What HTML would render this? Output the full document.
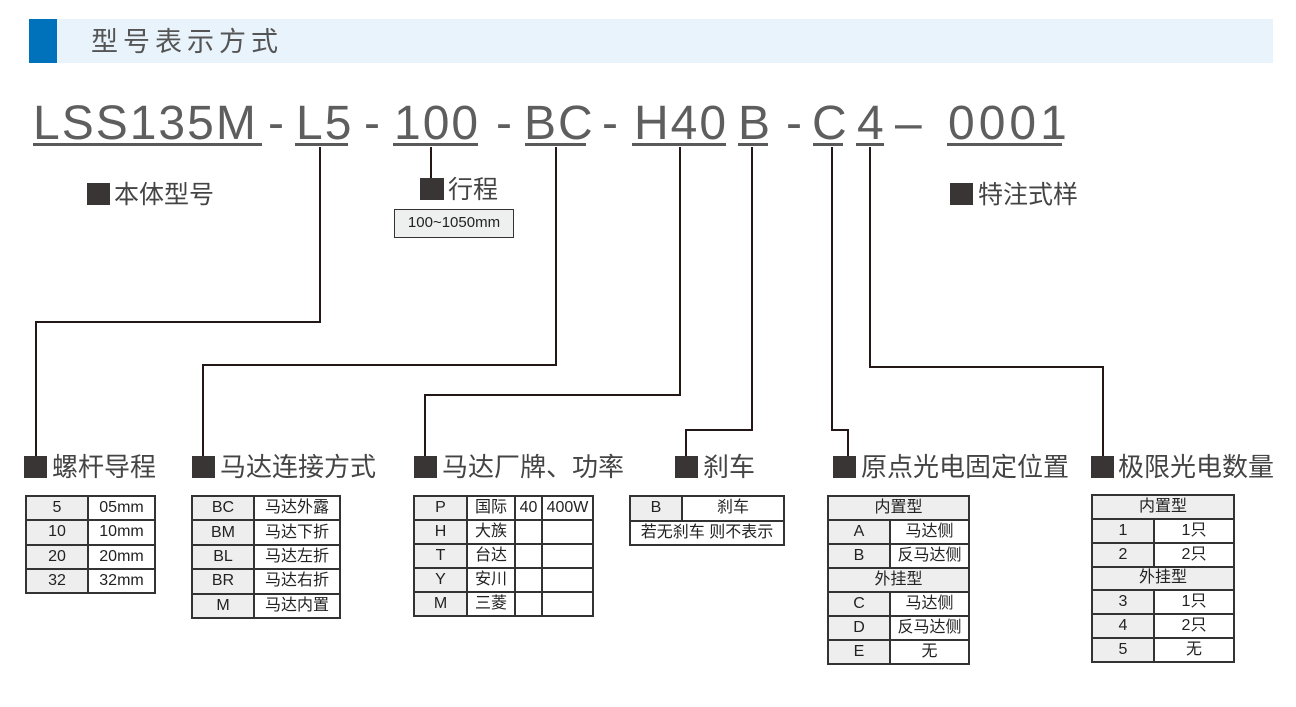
<!DOCTYPE html>
<html><head><meta charset="utf-8">
<style>
*{margin:0;padding:0;box-sizing:border-box}
body{width:1296px;height:707px;background:#fff;position:relative;overflow:hidden;font-family:"Liberation Sans","Noto Sans CJK SC",sans-serif;color:#333}
.a{position:absolute;white-space:nowrap}
.code{position:absolute;top:94px;font-size:48px;color:#5e5e5e;line-height:60px;font-family:"Liberation Sans",sans-serif;letter-spacing:2px;white-space:nowrap}
.ul{position:absolute;top:143px;height:3px;background:#5a5a5a}
.sq{position:absolute;background:#3a3535}
.lbl{position:absolute;font-size:26px;color:#444;line-height:30px;white-space:nowrap}
table{position:absolute;border-collapse:collapse;table-layout:fixed;border:2.5px solid #333}
td{border:2px solid #333;text-align:center;font-size:16px;color:#222;padding:0;line-height:18px;white-space:nowrap;overflow:hidden}
td.g{background:#eeeeee}
</style></head><body>
<div class="a" style="left:29px;top:19px;width:28px;height:44px;background:#0072bc"></div>
<div class="a" style="left:57px;top:19px;width:1216px;height:44px;background:#e8f3fc"></div>
<div class="a" style="left:91px;top:25px;font-size:27px;color:#555;letter-spacing:5px;line-height:34px">型号表示方式</div>

<div class="code" style="left:33px">LSS135M</div>
<div class="ul" style="left:33px;width:229px"></div>
<div class="code" style="left:268px">-</div>
<div class="code" style="left:296px">L5</div>
<div class="ul" style="left:295px;width:53px"></div>
<div class="code" style="left:364px">-</div>
<div class="code" style="left:394px">100</div>
<div class="ul" style="left:393px;width:85px"></div>
<div class="code" style="left:496px">-</div>
<div class="code" style="left:524px">BC</div>
<div class="ul" style="left:525px;width:61px"></div>
<div class="code" style="left:602px">-</div>
<div class="code" style="left:634px">H40</div>
<div class="ul" style="left:632px;width:94px"></div>
<div class="code" style="left:738px">B</div>
<div class="ul" style="left:738px;width:30px"></div>
<div class="code" style="left:786px">-</div>
<div class="code" style="left:812px">C</div>
<div class="ul" style="left:813px;width:30px"></div>
<div class="code" style="left:857px">4</div>
<div class="ul" style="left:856px;width:28px"></div>
<div class="code" style="left:895px">–</div>
<div class="code" style="left:948px;letter-spacing:4px">0001</div>
<div class="ul" style="left:947px;width:115px"></div>

<svg class="a" style="left:0;top:0" width="1296" height="707">
<g fill="none" stroke="#231815" stroke-width="2">
<polyline points="320,147 320,322 36,322 36,456"/>
<polyline points="431,147 431,180"/>
<polyline points="556,147 556,365 203,365 203,456"/>
<polyline points="680,147 680,395 425,395 425,456"/>
<polyline points="752,147 752,430 686,430 686,456"/>
<polyline points="832,147 832,430 848,430 848,456"/>
<polyline points="870,147 870,367 1103,367 1103,456"/>
</g>
</svg>

<div class="sq" style="left:87px;top:183px;width:23px;height:22px"></div>
<div class="lbl" style="left:114px;top:180px;font-size:25px">本体型号</div>
<div class="sq" style="left:420px;top:178px;width:24px;height:22px"></div>
<div class="lbl" style="left:448px;top:175px;font-size:25px">行程</div>
<div class="a" style="left:394px;top:209px;width:120px;height:29px;border:1.5px solid #333;background:#eef0f0;font-size:15px;line-height:26px;text-align:center;color:#222">100~1050mm</div>
<div class="sq" style="left:950px;top:183px;width:23px;height:22px"></div>
<div class="lbl" style="left:978px;top:180px;font-size:25px">特注式样</div>

<div class="sq" style="left:24px;top:456px;width:23px;height:22px"></div>
<div class="lbl" style="left:52px;top:452px">螺杆导程</div>
<div class="sq" style="left:192px;top:456px;width:23px;height:22px"></div>
<div class="lbl" style="left:220px;top:452px">马达连接方式</div>
<div class="sq" style="left:414px;top:456px;width:23px;height:22px"></div>
<div class="lbl" style="left:442px;top:452px">马达厂牌、功率</div>
<div class="sq" style="left:675px;top:456px;width:23px;height:22px"></div>
<div class="lbl" style="left:703px;top:452px">刹车</div>
<div class="sq" style="left:833px;top:456px;width:23px;height:22px"></div>
<div class="lbl" style="left:861px;top:452px">原点光电固定位置</div>
<div class="sq" style="left:1091px;top:456px;width:23px;height:22px"></div>
<div class="lbl" style="left:1118px;top:452px">极限光电数量</div>

<table style="left:25px;top:495px;width:131px;height:99px">
<colgroup><col style="width:62px"><col></colgroup>
<tr><td class="g">5</td><td>05mm</td></tr>
<tr><td class="g">10</td><td>10mm</td></tr>
<tr><td class="g">20</td><td>20mm</td></tr>
<tr><td class="g">32</td><td>32mm</td></tr>
</table>

<table style="left:191px;top:495px;width:150px;height:124px">
<colgroup><col style="width:62px"><col></colgroup>
<tr><td class="g">BC</td><td>马达外露</td></tr>
<tr><td class="g">BM</td><td>马达下折</td></tr>
<tr><td class="g">BL</td><td>马达左折</td></tr>
<tr><td class="g">BR</td><td>马达右折</td></tr>
<tr><td class="g">M</td><td>马达内置</td></tr>
</table>

<table style="left:413px;top:495px;width:181px;height:122px">
<colgroup><col style="width:53px"><col style="width:48px"><col style="width:27px"><col></colgroup>
<tr><td class="g">P</td><td>国际</td><td>40</td><td>400W</td></tr>
<tr><td class="g">H</td><td>大族</td><td></td><td></td></tr>
<tr><td class="g">T</td><td>台达</td><td></td><td></td></tr>
<tr><td class="g">Y</td><td>安川</td><td></td><td></td></tr>
<tr><td class="g">M</td><td>三菱</td><td></td><td></td></tr>
</table>

<table style="left:629px;top:495px;width:156px;height:51px">
<colgroup><col style="width:52px"><col></colgroup>
<tr><td class="g">B</td><td>刹车</td></tr>
<tr><td colspan="2">若无刹车 则不表示</td></tr>
</table>

<table style="left:827px;top:495px;width:143px;height:170px">
<colgroup><col style="width:62px"><col></colgroup>
<tr><td class="g" colspan="2">内置型</td></tr>
<tr><td class="g">A</td><td>马达侧</td></tr>
<tr><td class="g">B</td><td>反马达侧</td></tr>
<tr><td class="g" colspan="2">外挂型</td></tr>
<tr><td class="g">C</td><td>马达侧</td></tr>
<tr><td class="g">D</td><td>反马达侧</td></tr>
<tr><td class="g">E</td><td>无</td></tr>
</table>

<table style="left:1091px;top:494px;width:144px;height:169px">
<colgroup><col style="width:62px"><col></colgroup>
<tr><td class="g" colspan="2">内置型</td></tr>
<tr><td class="g">1</td><td>1只</td></tr>
<tr><td class="g">2</td><td>2只</td></tr>
<tr><td class="g" colspan="2">外挂型</td></tr>
<tr><td class="g">3</td><td>1只</td></tr>
<tr><td class="g">4</td><td>2只</td></tr>
<tr><td class="g">5</td><td>无</td></tr>
</table>
</body></html>
